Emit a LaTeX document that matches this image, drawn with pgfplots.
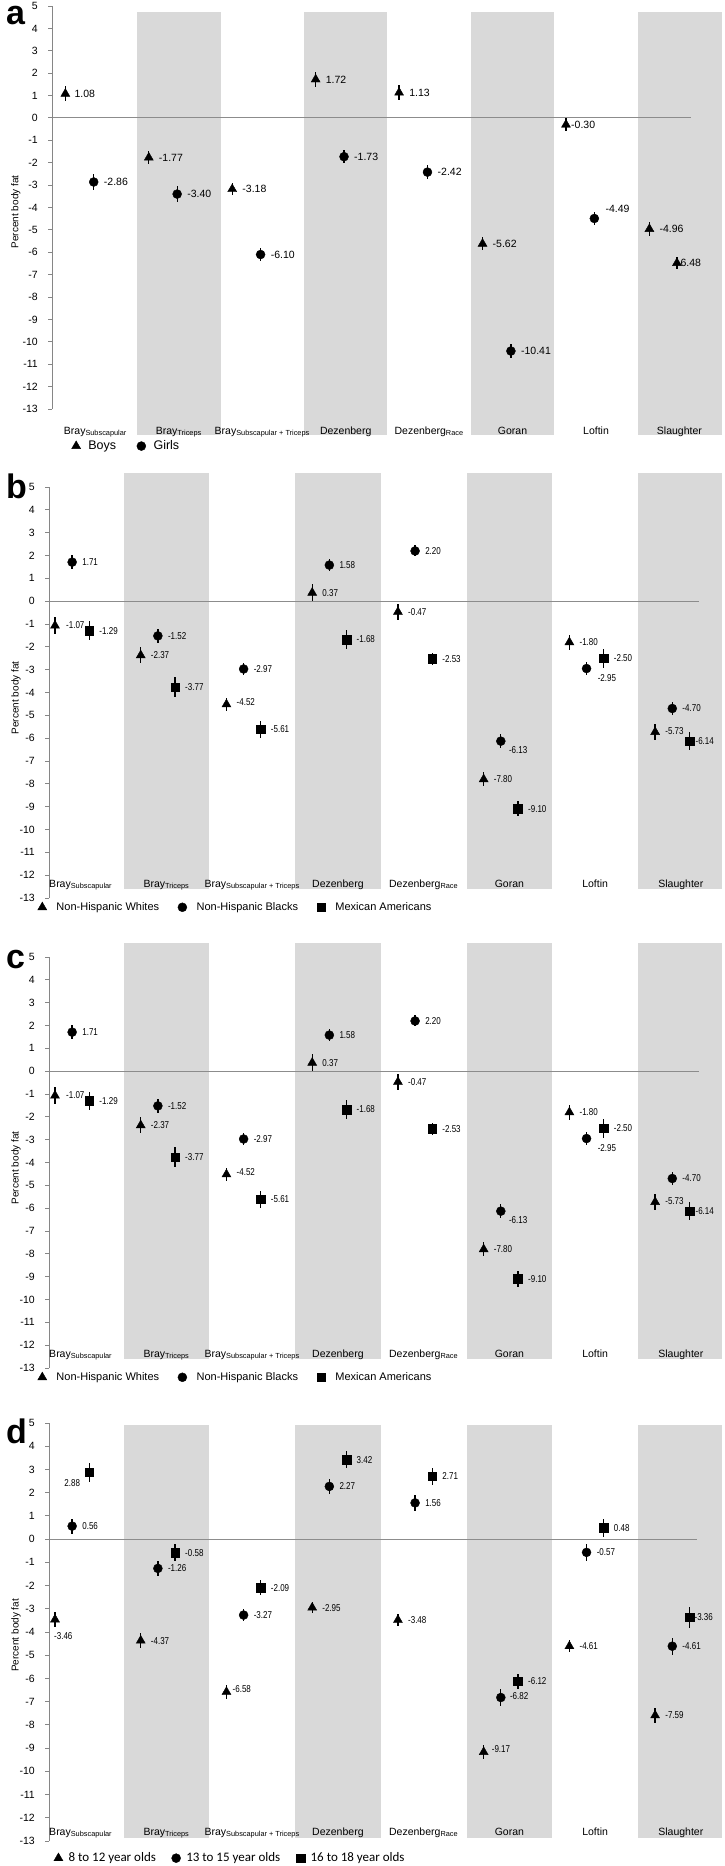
\documentclass[border=0pt]{standalone}
\usepackage{pgfplots}
\pgfplotsset{compat=1.18}
\usepackage{pgfplotstable}
\usepackage{fontspec}
\setmainfont{Liberation Sans}
\newfontfamily\narrowfont[FakeStretch=0.8]{Liberation Sans}
\newfontfamily\calibrifont{Carlito}

\definecolor{band}{HTML}{D9D9D9}
\definecolor{axgray}{HTML}{868686}
\definecolor{zerogray}{HTML}{8C8C8C}

% panel a: boys / girls  (x = category + offset, e = error, dx/dy = label offset in pt)
\pgfplotstableread{
x y e dx dy
-0.36 1.08 0.34 9 0
0.64 -1.77 0.28 10 0
1.64 -3.18 0.28 10 0
2.64 1.72 0.35 10 0
3.64 1.13 0.34 10 0
4.64 -5.62 0.30 10 0
5.64 -0.30 0.28 5 0
6.64 -4.96 0.32 10 0
}\boysA
\pgfplotstableread{
x y e dx dy
-0.02 -2.86 0.34 10 0
0.98 -3.40 0.34 10 0
1.98 -6.10 0.28 10 0
2.98 -1.73 0.28 10 0
3.98 -2.42 0.30 10 0
4.98 -10.41 0.32 10 0
5.98 -4.49 0.28 11 10
}\girlsA
\pgfplotstableread{
x y e dx dy
6.97 -6.48 0.28 0 0
}\girlsAlast

% panels b and c: race/ethnicity
\pgfplotstableread{
x y e dx dy
-0.3 -1.07 0.36 11 1
0.7 -2.37 0.35 10 0
1.7 -4.52 0.28 10 2
2.7 0.37 0.38 10 0
3.7 -0.47 0.36 10 0
4.7 -7.80 0.30 10 0
5.7 -1.80 0.34 10 0
6.7 -5.73 0.33 10 1
}\whiteB
\pgfplotstableread{
x y e dx dy
-0.1 1.71 0.31 10 0
0.9 -1.52 0.29 10 0
1.9 -2.97 0.27 10 0
2.9 1.58 0.26 10 0
3.9 2.20 0.24 10 0
4.9 -6.13 0.30 8 -9
5.9 -2.95 0.29 11 -10
6.9 -4.70 0.29 10 0
}\blackB
\pgfplotstableread{
x y e dx dy
0.1 -1.29 0.40 10 0
1.1 -3.77 0.44 10 0
2.1 -5.61 0.38 10 0
3.1 -1.68 0.40 10 0
4.1 -2.53 0.25 10 0
5.1 -9.10 0.33 10 0
6.1 -2.50 0.42 10 0
7.1 -6.14 0.39 6 0
}\mexB

% panel d: age groups
\pgfplotstableread{
x y e dx dy
-0.3 -3.46 0.32 -1 -17
0.7 -4.37 0.31 10 0
1.7 -6.58 0.29 6 3
2.7 -2.95 0.24 10 0
3.7 -3.48 0.24 10 0
4.7 -9.17 0.30 8 3
5.7 -4.61 0.26 10 0
6.7 -7.59 0.32 10 0
}\ageone
\pgfplotstableread{
x y e dx dy
-0.1 0.56 0.32 10 0
0.9 -1.26 0.32 10 0
1.9 -3.27 0.27 10 0
2.9 2.27 0.34 10 0
3.9 1.56 0.36 10 0
4.9 -6.82 0.36 9 1
5.9 -0.57 0.36 10 0
6.9 -4.61 0.36 10 0
}\agetwo
\pgfplotstableread{
x y e dx dy
0.1 2.88 0.41 -25 -11
1.1 -0.58 0.38 10 0
2.1 -2.09 0.33 10 0
3.1 3.42 0.36 10 0
4.1 2.71 0.36 10 0
5.1 -6.12 0.33 10 0
6.1 0.48 0.39 10 0
7.1 -3.36 0.45 5 0
}\agethree

\pgfplotsset{
  panel/.style={
    scale only axis, clip=false,
    set layers=axis on top,
    axis lines*=left,
    x axis line style={draw=none},
    y axis line style={draw=axgray, line width=0.9pt},
    ymin=-13, ymax=5, ytick={-13,...,5},
    xtick={0,...,7},
    xticklabels={Bray\textsubscript{Subscapular}, Bray\textsubscript{Triceps},
      Bray\textsubscript{Subscapular + Triceps}, Dezenberg,
      Dezenberg\textsubscript{Race}, Goran, Loftin, Slaughter},
    tick align=outside, major tick length=4pt,
    xtick style={draw=none},
    ytick style={draw=axgray, line width=0.9pt},
    yticklabel style={font=\fontsize{10.5}{12}\selectfont, anchor=east, inner sep=0pt, xshift=-10pt},
    xticklabel style={font=\fontsize{10.5}{12}\selectfont, anchor=base, inner sep=0pt},
    /pgf/number format/assume math mode=true,
    ylabel={Percent body fat},
    label style={font=\fontsize{10}{12}\selectfont},
    legend columns=-1,
    legend style={draw=none, fill=none, inner sep=0pt, anchor=west, nodes={inner sep=0pt}},
  },
  ser/.style={only marks, black, mark options={fill=black, draw=black},
    legend image code/.code={\path (-5pt,0pt) (5pt,0pt); \draw[##1] plot coordinates {(0pt,0pt)};},
    point meta=explicit,
    nodes near coords={\pgfmathprintnumber[fixed,fixed zerofill,precision=2,assume math mode=true]{\pgfplotspointmeta}},
    visualization depends on={\thisrow{dx}\as\lblx},
    visualization depends on={\thisrow{dy}\as\lbly},
    nodes near coords style={anchor=west, inner sep=0pt, xshift=\lblx pt, yshift=\lbly pt, text=black},
    error bars/y dir=both, error bars/y explicit,
    error bars/error bar style={line width=1.3pt, black},
    error bars/error mark options={line width=1.4pt, black, mark size=4.2pt},
  },
  tri/.style={ser, mark=triangle*, mark size=5.2pt},
  cir/.style={ser, mark=*, mark size=4.5pt},
  sqr/.style={ser, mark=square*, mark size=4.3pt},
}

\begin{document}
\makebox[724pt][l]{\raisebox{0pt}[1866pt][0pt]{%
\begin{tikzpicture}[baseline={(0pt,-1866pt)}]
\node[font=\fontsize{34}{34}\selectfont\bfseries, anchor=base west, inner sep=0pt] at (6pt,-24pt) {a};
\node[font=\fontsize{34}{34}\selectfont\bfseries, anchor=base west, inner sep=0pt] at (6pt,-498pt) {b};
\node[font=\fontsize{34}{34}\selectfont\bfseries, anchor=base west, inner sep=0pt] at (6pt,-968pt) {c};
\node[font=\fontsize{34}{34}\selectfont\bfseries, anchor=base west, inner sep=0pt] at (6pt,-1443pt) {d};

% ---- a ----
\begin{axis}[panel, at={(52pt,-409pt)}, anchor=south west, width=670pt, height=403pt,
  xmin=-0.52, xmax=7.51,
  xticklabel style={yshift=-21pt},
  every axis y label/.style={at={(axis description cs:-0.054,0.489)}, anchor=center, rotate=90},
  nodes near coords style={font=\fontsize{10.5}{12}\selectfont},
  legend style={at={(axis description cs:0.028,-0.092)}, font=\fontsize{12.5}{14}\selectfont,
    /tikz/every odd column/.append style={column sep=7pt},
    /tikz/every even column/.append style={column sep=20pt}}]
\fill[band] (axis cs:0.5,-14.16) rectangle (axis cs:1.5,4.73);
\fill[band] (axis cs:2.5,-14.16) rectangle (axis cs:3.5,4.73);
\fill[band] (axis cs:4.5,-14.16) rectangle (axis cs:5.5,4.73);
\fill[band] (axis cs:6.5,-14.16) rectangle (axis cs:7.51,4.73);
\draw[zerogray, line width=1pt] (axis cs:-0.52,0) -- (axis cs:7.14,0);
\addplot[tri] table[x=x, y=y, y error=e, meta=y] {\boysA};
\addlegendentry{Boys}
\addplot[cir] table[x=x, y=y, y error=e, meta=y] {\girlsA};
\addlegendentry{Girls}
\addplot[tri, forget plot] table[x=x, y=y, y error=e, meta=y] {\girlsAlast};
\end{axis}

% ---- b ----
\begin{axis}[panel, at={(49pt,-898pt)}, anchor=south west, width=673pt, height=411pt,
  xmin=-0.37, xmax=7.48,
  xticklabel style={yshift=15pt},
  every axis y label/.style={at={(axis description cs:-0.049,0.487)}, anchor=center, rotate=90},
  nodes near coords style={font=\narrowfont\fontsize{10}{12}\selectfont},
  legend style={at={(axis description cs:-0.018,-0.022)}, font=\fontsize{11}{13}\selectfont,
    /tikz/every odd column/.append style={column sep=9pt},
    /tikz/every even column/.append style={column sep=18pt}}]
\fill[band] (axis cs:0.5,-12.61) rectangle (axis cs:1.5,5.61);
\fill[band] (axis cs:2.5,-12.61) rectangle (axis cs:3.5,5.61);
\fill[band] (axis cs:4.5,-12.61) rectangle (axis cs:5.5,5.61);
\fill[band] (axis cs:6.5,-12.61) rectangle (axis cs:7.48,5.61);
\draw[zerogray, line width=1pt] (axis cs:-0.37,0) -- (axis cs:7.21,0);
\addplot[tri] table[x=x, y=y, y error=e, meta=y] {\whiteB};
\addlegendentry{Non-Hispanic Whites}
\addplot[cir] table[x=x, y=y, y error=e, meta=y] {\blackB};
\addlegendentry{Non-Hispanic Blacks}
\addplot[sqr] table[x=x, y=y, y error=e, meta=y] {\mexB};
\addlegendentry{Mexican Americans}
\end{axis}

% ---- c ----
\begin{axis}[panel, at={(49pt,-1368pt)}, anchor=south west, width=673pt, height=411pt,
  xmin=-0.37, xmax=7.48,
  xticklabel style={yshift=15pt},
  every axis y label/.style={at={(axis description cs:-0.049,0.487)}, anchor=center, rotate=90},
  nodes near coords style={font=\narrowfont\fontsize{10}{12}\selectfont},
  legend style={at={(axis description cs:-0.018,-0.022)}, font=\fontsize{11}{13}\selectfont,
    /tikz/every odd column/.append style={column sep=9pt},
    /tikz/every even column/.append style={column sep=18pt}}]
\fill[band] (axis cs:0.5,-12.61) rectangle (axis cs:1.5,5.61);
\fill[band] (axis cs:2.5,-12.61) rectangle (axis cs:3.5,5.61);
\fill[band] (axis cs:4.5,-12.61) rectangle (axis cs:5.5,5.61);
\fill[band] (axis cs:6.5,-12.61) rectangle (axis cs:7.48,5.61);
\draw[zerogray, line width=1pt] (axis cs:-0.37,0) -- (axis cs:7.21,0);
\addplot[tri] table[x=x, y=y, y error=e, meta=y] {\whiteB};
\addlegendentry{Non-Hispanic Whites}
\addplot[cir] table[x=x, y=y, y error=e, meta=y] {\blackB};
\addlegendentry{Non-Hispanic Blacks}
\addplot[sqr] table[x=x, y=y, y error=e, meta=y] {\mexB};
\addlegendentry{Mexican Americans}
\end{axis}

% ---- d ----
\begin{axis}[panel, at={(49pt,-1841pt)}, anchor=south west, width=673pt, height=418pt,
  xmin=-0.37, xmax=7.48,
  xticklabel style={yshift=10pt},
  every axis y label/.style={at={(axis description cs:-0.049,0.492)}, anchor=center, rotate=90},
  nodes near coords style={font=\narrowfont\fontsize{10}{12}\selectfont},
  legend style={at={(axis description cs:0.006,-0.041)}, font=\calibrifont\fontsize{13}{15}\selectfont,
    /tikz/every odd column/.append style={column sep=5pt},
    /tikz/every even column/.append style={column sep=15pt}}]
\fill[band] (axis cs:0.5,-12.87) rectangle (axis cs:1.5,4.91);
\fill[band] (axis cs:2.5,-12.87) rectangle (axis cs:3.5,4.91);
\fill[band] (axis cs:4.5,-12.87) rectangle (axis cs:5.5,4.91);
\fill[band] (axis cs:6.5,-12.87) rectangle (axis cs:7.48,4.91);
\draw[zerogray, line width=1pt] (axis cs:-0.37,0) -- (axis cs:7.19,0);
\addplot[tri] table[x=x, y=y, y error=e, meta=y] {\ageone};
\addlegendentry{8 to 12 year olds}
\addplot[cir] table[x=x, y=y, y error=e, meta=y] {\agetwo};
\addlegendentry{13 to 15 year olds}
\addplot[sqr] table[x=x, y=y, y error=e, meta=y] {\agethree};
\addlegendentry{16 to 18 year olds}
\end{axis}

\pgfresetboundingbox
\path[use as bounding box] (0pt,0pt) rectangle (724pt,-1866pt);
\end{tikzpicture}}}
\end{document}
